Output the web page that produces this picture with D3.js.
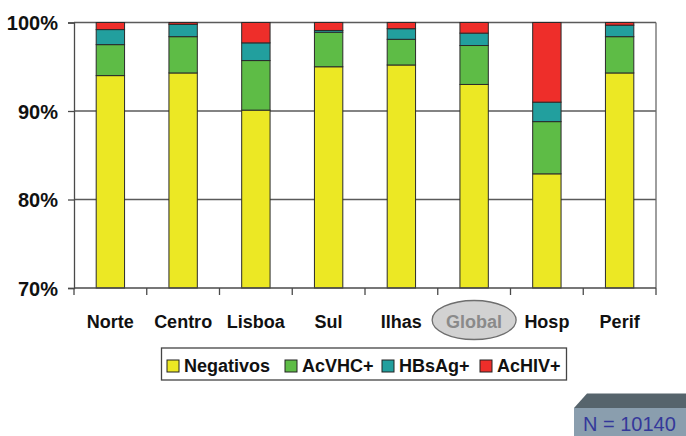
<!DOCTYPE html>
<html>
<head>
<meta charset="utf-8">
<script src="https://cdn.jsdelivr.net/npm/d3@7"></script>
<style>
  html, body { margin: 0; padding: 0; background: #fff; }
  svg { display: block; font-family: "Liberation Sans", Arial, sans-serif; }
</style>
</head>
<body>
<svg id="chart" width="686" height="436"></svg>
<script>
// Categories (regions) and the percentage of each result per region
const categories = ["Norte", "Centro", "Lisboa", "Sul", "Ilhas", "Global", "Hosp", "Perif"];
const negativos = [94.0, 94.3, 90.1, 95.0, 95.2, 93.0, 82.9, 94.3];
const acVHC     = [3.5, 4.1, 5.6, 3.9, 2.9, 4.4, 5.9, 4.1];
const hbsAg     = [1.7, 1.4, 2.0, 0.2, 1.2, 1.4, 2.2, 1.3];
const acHIV     = [0.8, 0.2, 2.3, 0.9, 0.7, 1.2, 9.0, 0.3];
const seriesNames = ["Negativos", "AcVHC+", "HBsAg+", "AcHIV+"];
const seriesColors = ["#ECE824", "#5EBC46", "#229F9E", "#EE2E2A"];
const yTicks = [70, 80, 90, 100];
const sampleNote = "N = 10140";

const rows = categories.map((c, i) => ({
  cat: c,
  "Negativos": negativos[i],
  "AcVHC+": acVHC[i],
  "HBsAg+": hbsAg[i],
  "AcHIV+": acHIV[i]
}));

const svg = d3.select("#chart");
const plot = { left: 74, right: 656, top: 22.5, bottom: 288 };

const x = d3.scaleBand().domain(categories).range([plot.left, plot.right]).padding(0);
const y = d3.scaleLinear().domain([70, 100]).range([plot.bottom, plot.top]).clamp(true);
const color = d3.scaleOrdinal().domain(seriesNames).range(seriesColors);

const stacked = d3.stack().keys(seriesNames)(rows);

// Horizontal gridlines (80%, 90%, 100%)
svg.append("g").selectAll("line")
  .data(yTicks.filter(t => t > 70))
  .join("line")
  .attr("x1", plot.left).attr("x2", plot.right)
  .attr("y1", d => y(d)).attr("y2", d => y(d))
  .attr("stroke", "#5a5a5a").attr("stroke-width", 1.3);

// Right border of the plot area
svg.append("line")
  .attr("x1", plot.right).attr("x2", plot.right)
  .attr("y1", plot.top).attr("y2", plot.bottom)
  .attr("stroke", "#6a6a6a").attr("stroke-width", 1.3);

// Stacked bars
const barFrac = 0.39;
const barW = x.bandwidth() * barFrac;
svg.append("g").selectAll("g")
  .data(stacked)
  .join("g")
  .attr("fill", d => color(d.key))
  .selectAll("rect")
  .data(d => d)
  .join("rect")
  .attr("x", d => x(d.data.cat) + (x.bandwidth() - barW) / 2)
  .attr("width", barW)
  .attr("y", d => y(d[1]))
  .attr("height", d => y(d[0]) - y(d[1]))
  .attr("stroke", "#2a2a2a")
  .attr("stroke-width", 1);

// Y axis
const yAxis = d3.axisLeft(y).tickValues(yTicks).tickFormat(d => d + "%").tickSize(6).tickPadding(10);
const gy = svg.append("g").attr("transform", `translate(${plot.left},0)`).call(yAxis);
gy.select(".domain").attr("stroke", "#4a4a4a").attr("stroke-width", 1.3);
gy.selectAll(".tick line").attr("stroke", "#4a4a4a").attr("stroke-width", 1.3);
gy.selectAll(".tick text")
  .attr("font-family", "'Liberation Sans', Arial, sans-serif")
  .attr("font-size", 20).attr("font-weight", "bold").attr("fill", "#111")
  .attr("dy", "0.36em");

// Highlight for the overall column label (drawn beneath the labels)
const gCx = x("Global") + x.bandwidth() / 2;
svg.append("ellipse")
  .attr("cx", gCx).attr("cy", 320)
  .attr("rx", 42).attr("ry", 19.5)
  .attr("fill", "#d2d2d2").attr("stroke", "#6e6e6e").attr("stroke-width", 1.3);

// X axis: ticks sit on the boundaries between categories
const gx = svg.append("g");
gx.append("line")
  .attr("x1", plot.left).attr("x2", plot.right)
  .attr("y1", plot.bottom).attr("y2", plot.bottom)
  .attr("stroke", "#4a4a4a").attr("stroke-width", 1.3);
const bounds = categories.map(c => x(c)).concat([x.range()[1]]);
gx.selectAll("line.tk")
  .data(bounds)
  .join("line").attr("class", "tk")
  .attr("x1", d => d).attr("x2", d => d)
  .attr("y1", plot.bottom).attr("y2", plot.bottom + 7)
  .attr("stroke", "#4a4a4a").attr("stroke-width", 1.3);

gx.selectAll("text")
  .data(categories)
  .join("text")
  .attr("x", d => x(d) + x.bandwidth() / 2)
  .attr("y", 328)
  .attr("text-anchor", "middle")
  .attr("font-size", 18).attr("font-weight", "bold")
  .attr("fill", d => d === "Global" ? "#8a8a8a" : "#111")
  .text(d => d);

// Legend
const legend = svg.append("g");
legend.append("rect")
  .attr("x", 161.5).attr("y", 348).attr("width", 405).attr("height", 32)
  .attr("fill", "#fff").attr("stroke", "#444").attr("stroke-width", 1.3);
const legendX = [167, 285, 382, 480];
const items = legend.selectAll("g.item")
  .data(seriesNames)
  .join("g").attr("class", "item")
  .attr("transform", (d, i) => `translate(${legendX[i]},0)`);
items.append("rect")
  .attr("x", 0).attr("y", 360).attr("width", 12).attr("height", 12)
  .attr("fill", d => color(d)).attr("stroke", "#222").attr("stroke-width", 1);
items.append("text")
  .attr("x", 17).attr("y", 372)
  .attr("font-size", 18).attr("font-weight", "bold").attr("fill", "#111")
  .text(d => d);

// Sample size box (bevelled)
const nb = svg.append("g");
nb.append("polygon")
  .attr("points", "574,408 587,393.5 686,393.5 686,408")
  .attr("fill", "#56646c");
nb.append("rect")
  .attr("x", 574).attr("y", 408).attr("width", 112).attr("height", 28)
  .attr("fill", "#8a9eae");
nb.append("text")
  .attr("x", 583).attr("y", 431)
  .attr("font-size", 20).attr("fill", "#34389a")
  .text(sampleNote);
</script>
</body>
</html>
